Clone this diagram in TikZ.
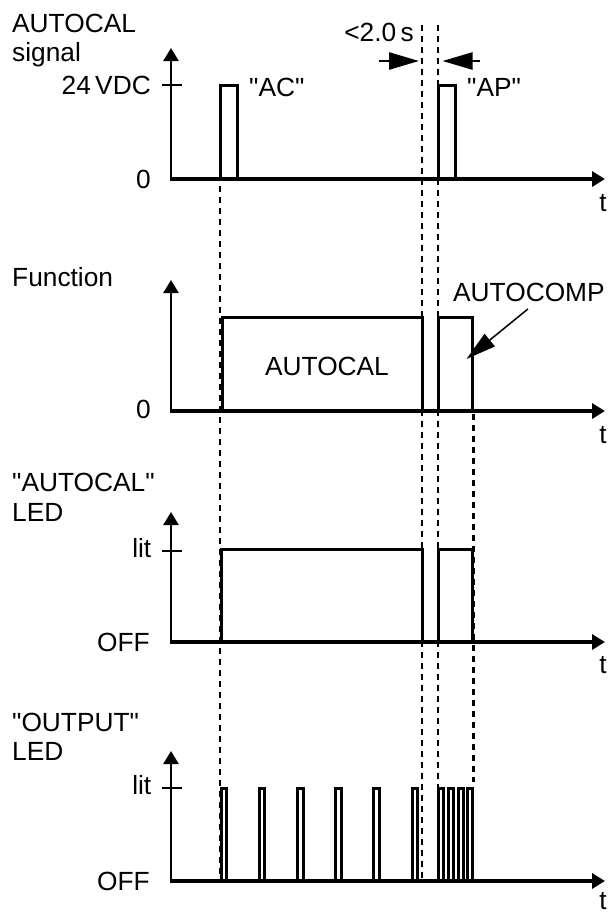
\documentclass[tikz,border=0pt]{standalone}
\usepackage{fontspec}
\setmainfont{Liberation Sans}
\usetikzlibrary{arrows.meta}
\newcommand{\qq}{\textquotedbl}
\begin{document}
\begin{tikzpicture}[x=1pt,y=-1pt,
  lbl/.style={inner sep=0pt, font=\fontsize{26.3}{30}\selectfont},
  axisline/.style={line width=2.7pt, -{Triangle[length=13pt,width=15pt]}},
  zeroline/.style={line width=3.5pt, -{Triangle[length=13pt,width=15pt]}},
  sig/.style={line width=3pt, line join=miter},
  ticklbl/.style={line width=2.4pt},
  dsh/.style={line width=2.4pt, dash pattern=on 6pt off 5pt},
  gaparrow/.style={line width=2.6pt, -{Triangle[length=30pt,width=17pt]}},
  callout/.style={line width=1.5pt, -{Triangle[length=30pt,width=16pt]}}]
\useasboundingbox (0,0) rectangle (609,914);

% ---------- dashed guide lines ----------
\draw[dsh] (220,186) -- (220,881);
\draw[dsh] (421.8,25) -- (421.8,881);
\draw[dsh] (437.7,25) -- (437.7,797);
\draw[dsh] (473.3,414) -- (473.3,782);

% ---------- panel 1: AUTOCAL signal ----------
\node[lbl, anchor=base west] (t1a) at (12,32) {AUTOCAL};
\node[lbl, anchor=base west] (t1b) at (12,61.5) {signal};
\node[lbl, anchor=base east] (v24) at (151,94) {24\,VDC};
\node[lbl, anchor=base east] (z1) at (151,188) {0};
\node[lbl, anchor=base west] (ac) at (249,96.5) {\qq AC\qq};
\node[lbl, anchor=base west] (ap) at (467,96.5) {\qq AP\qq};
\node[lbl, anchor=base] (tt1) at (603,211) {t};
\node[lbl, anchor=base east] (lt) at (414,41) {<2.0\,s};
\coordinate (o1) at (171,179);
\draw[axisline] (171,180.5) -- (171,48);
\draw[zeroline] (169.8,179) -- (605,179);
\draw[ticklbl] (162,85) -- (182,85);
\draw[sig] (220.5,179) -- (220.5,85) -- (237,85) -- (237,179);
\draw[sig] (438.5,179) -- (438.5,85) -- (455,85) -- (455,179);
\coordinate (gl0) at (379,61);
\coordinate (gl1) at (419,61);
\coordinate (gr0) at (480,61);
\coordinate (gr1) at (442.5,61);
\draw[gaparrow] (gl0) -- (gl1);
\draw[gaparrow] (gr0) -- (gr1);

% ---------- panel 2: Function ----------
\node[lbl, anchor=base west] (t2) at (12,286.5) {Function};
\node[lbl, anchor=base east] (z2) at (151,418) {0};
\node[lbl, anchor=base] (acal) at (327,375) {AUTOCAL};
\node[lbl, anchor=base west] (acomp) at (453,301.5) {AUTOCOMP};
\node[lbl, anchor=base] (tt2) at (603,443) {t};
\draw[axisline] (171,412.5) -- (171,280);
\draw[zeroline] (169.8,411) -- (605,411);
\draw[sig] (222,411) -- (222,317) -- (422.5,317) -- (422.5,411);
\draw[sig] (438.5,411) -- (438.5,317) -- (472.7,317) -- (472.7,411);
\coordinate (cp) at (466.5,359);
\draw[callout] (acomp.south) ++(-1,7) -- (cp);

% ---------- panel 3: AUTOCAL LED ----------
\node[lbl, anchor=base west] (t3a) at (12,491.7) {\qq AUTOCAL\qq};
\node[lbl, anchor=base west] (t3b) at (12,521.7) {LED};
\node[lbl, anchor=base east] (lit3) at (151.5,557.3) {lit};
\node[lbl, anchor=base east] (off3) at (150,651.7) {OFF};
\node[lbl, anchor=base] (tt3) at (603,673) {t};
\draw[axisline] (171,643.5) -- (171,512);
\draw[zeroline] (169.8,642) -- (605,642);
\draw[ticklbl] (162,551) -- (182,551);
\draw[sig] (221.3,642) -- (221.3,549.5) -- (422.5,549.5) -- (422.5,642);
\draw[sig] (438.5,642) -- (438.5,549.5) -- (472.7,549.5) -- (472.7,642);

% ---------- panel 4: OUTPUT LED ----------
\node[lbl, anchor=base west] (t4a) at (12,731.7) {\qq OUTPUT\qq};
\node[lbl, anchor=base west] (t4b) at (12,760) {LED};
\node[lbl, anchor=base east] (lit4) at (151.5,794.3) {lit};
\node[lbl, anchor=base east] (off4) at (150,890.7) {OFF};
\node[lbl, anchor=base] (tt4) at (603,909.5) {t};
\draw[axisline] (171,882.5) -- (171,751);
\draw[zeroline] (169.8,881) -- (605,881);
\draw[ticklbl] (162,788) -- (182,788);
\foreach \s in {221.3,259.3,297.8,335.8,373.8,412} {
  \draw[sig] (\s,881) -- (\s,788.5) -- ({\s+5.3},788.5) -- ({\s+5.3},881);
}
\foreach \s in {438.8,448.5,458.2,467.9} {
  \draw[sig] (\s,881) -- (\s,788.5) -- ({\s+4.8},788.5) -- ({\s+4.8},881);
}
\end{tikzpicture}
\end{document}
